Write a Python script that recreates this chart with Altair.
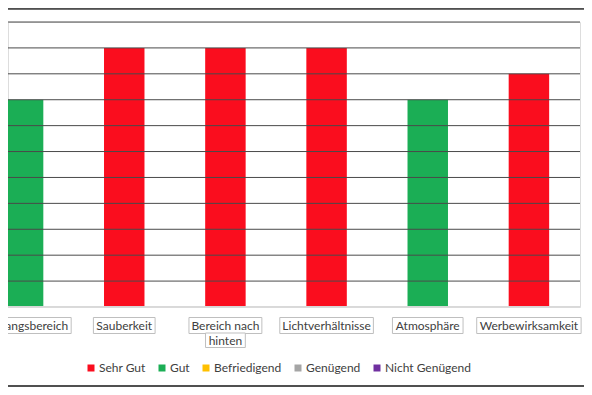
import altair as alt
import pandas as pd

# ---- data ----
categories = ["Empfangsbereich", "Sauberkeit", "Bereich nach hinten",
              "Lichtverhältnisse", "Atmosphäre", "Werbewirksamkeit"]
values = [8, 10, 10, 10, 8, 9]
ratings_of_bars = ["Gut", "Sehr Gut", "Sehr Gut", "Sehr Gut", "Gut", "Sehr Gut"]
label_lines = [["Empfangsbereich"], ["Sauberkeit"], ["Bereich nach", "hinten"],
               ["Lichtverhältnisse"], ["Atmosphäre"], ["Werbewirksamkeit"]]
ratings = ["Sehr Gut", "Gut", "Befriedigend", "Genügend", "Nicht Genügend"]
rating_colors = ["#FA0D1E", "#1BAE55", "#FFC000", "#A5A5A5", "#7030A0"]
y_ticks = list(range(1, 12))

FONT = "Lato"
TEXT = "#404040"

# approximate text width (px at 12px Lato) to size the label frames
_cw = {"i": 2.9, "l": 2.9, "j": 2.9, "t": 4.3, "f": 4.0, "r": 4.4, "s": 5.1,
       "c": 5.5, "k": 6.0, "v": 6.0, "a": 6.1, "ä": 6.1, "e": 6.2, "g": 6.2,
       "m": 10.1, "w": 9.0, "W": 11.8, "A": 8.0, "L": 5.3, "S": 6.0, "E": 6.3,
       "B": 7.3, " ": 2.4}


def text_w(s):
    return sum(_cw.get(ch, 6.8) for ch in s)


df = pd.DataFrame({
    "Kategorie": categories,
    "Wert": values,
    "Bewertung": ratings_of_bars,
    "line1": [l[0] for l in label_lines],
    "line2": [l[1] if len(l) > 1 else "" for l in label_lines],
})
df["w1"] = df["line1"].map(lambda s: text_w(s) + 6)
df["w2"] = df["line2"].map(lambda s: text_w(s) + 6 if s else 0)
grid_df = pd.DataFrame({"Wert": y_ticks})

xscale = alt.Scale(domain=categories, range=[-35.5, 571.5],
                   paddingInner=0.6, paddingOuter=0.3)
x_enc = alt.X("Kategorie:N", scale=xscale, sort=categories, axis=None)
yscale = alt.Scale(domain=[0, 11], nice=False)

base = alt.Chart(df)

bars = base.mark_bar().encode(
    x=x_enc,
    y=alt.Y("Wert:Q", scale=yscale,
            axis=alt.Axis(grid=False, labels=False, ticks=False,
                          domain=False, title=None)),
    color=alt.Color("Bewertung:N",
                    scale=alt.Scale(domain=ratings, range=rating_colors),
                    legend=alt.Legend(orient="none", direction="horizontal",
                                      legendX=77, legendY=340, title=None,
                                      symbolType="square", symbolSize=49,
                                      symbolStrokeWidth=0, labelOffset=2,
                                      columnPadding=10, labelFont=FONT,
                                      labelFontSize=12, labelColor=TEXT)),
)

grid = alt.Chart(grid_df).mark_rule(color="#4a4a4a", strokeWidth=1).encode(
    y=alt.Y("Wert:Q"))

baseline = alt.Chart(df).mark_rule(color="#d9d9d9", strokeWidth=1).encode(
    y=alt.datum(0))

top_border = alt.Chart(df).mark_rule(color="#505050", strokeWidth=1.5).encode(
    x=alt.value(-8), x2=alt.value(576), y=alt.value(-13.5))
bottom_border = alt.Chart(df).mark_rule(color="#505050", strokeWidth=1.5).encode(
    x=alt.value(-8), x2=alt.value(576), y=alt.value(364))

box1 = base.mark_bar(fill="white", stroke="#bfbfbf", strokeWidth=1).encode(
    x=x_enc, size=alt.Size("w1:Q", scale=None, legend=None),
    y=alt.value(295.5), y2=alt.value(311.5))
txt1 = base.mark_text(font=FONT, fontSize=12, color=TEXT, baseline="middle").encode(
    x=x_enc, y=alt.value(303.5), text="line1:N")

second = base.transform_filter("datum.line2 != ''")
box2 = second.mark_bar(fill="white", stroke="#bfbfbf", strokeWidth=1).encode(
    x=x_enc, size=alt.Size("w2:Q", scale=None, legend=None),
    y=alt.value(311), y2=alt.value(325.5))
txt2 = second.mark_text(font=FONT, fontSize=12, color=TEXT, baseline="middle").encode(
    x=x_enc, y=alt.value(318.5), text="line2:N")

chart = alt.layer(
    bars, grid, baseline, top_border, bottom_border, box1, box2, txt1, txt2
).properties(
    width=572, height=285,
    autosize=alt.AutoSizeParams(type="none"),
    padding={"left": 0, "top": 14, "right": 4, "bottom": 80},
).configure_view(stroke=None).configure(background="white")

chart.save("out.html", embed_options={"renderer": "svg", "actions": False})
